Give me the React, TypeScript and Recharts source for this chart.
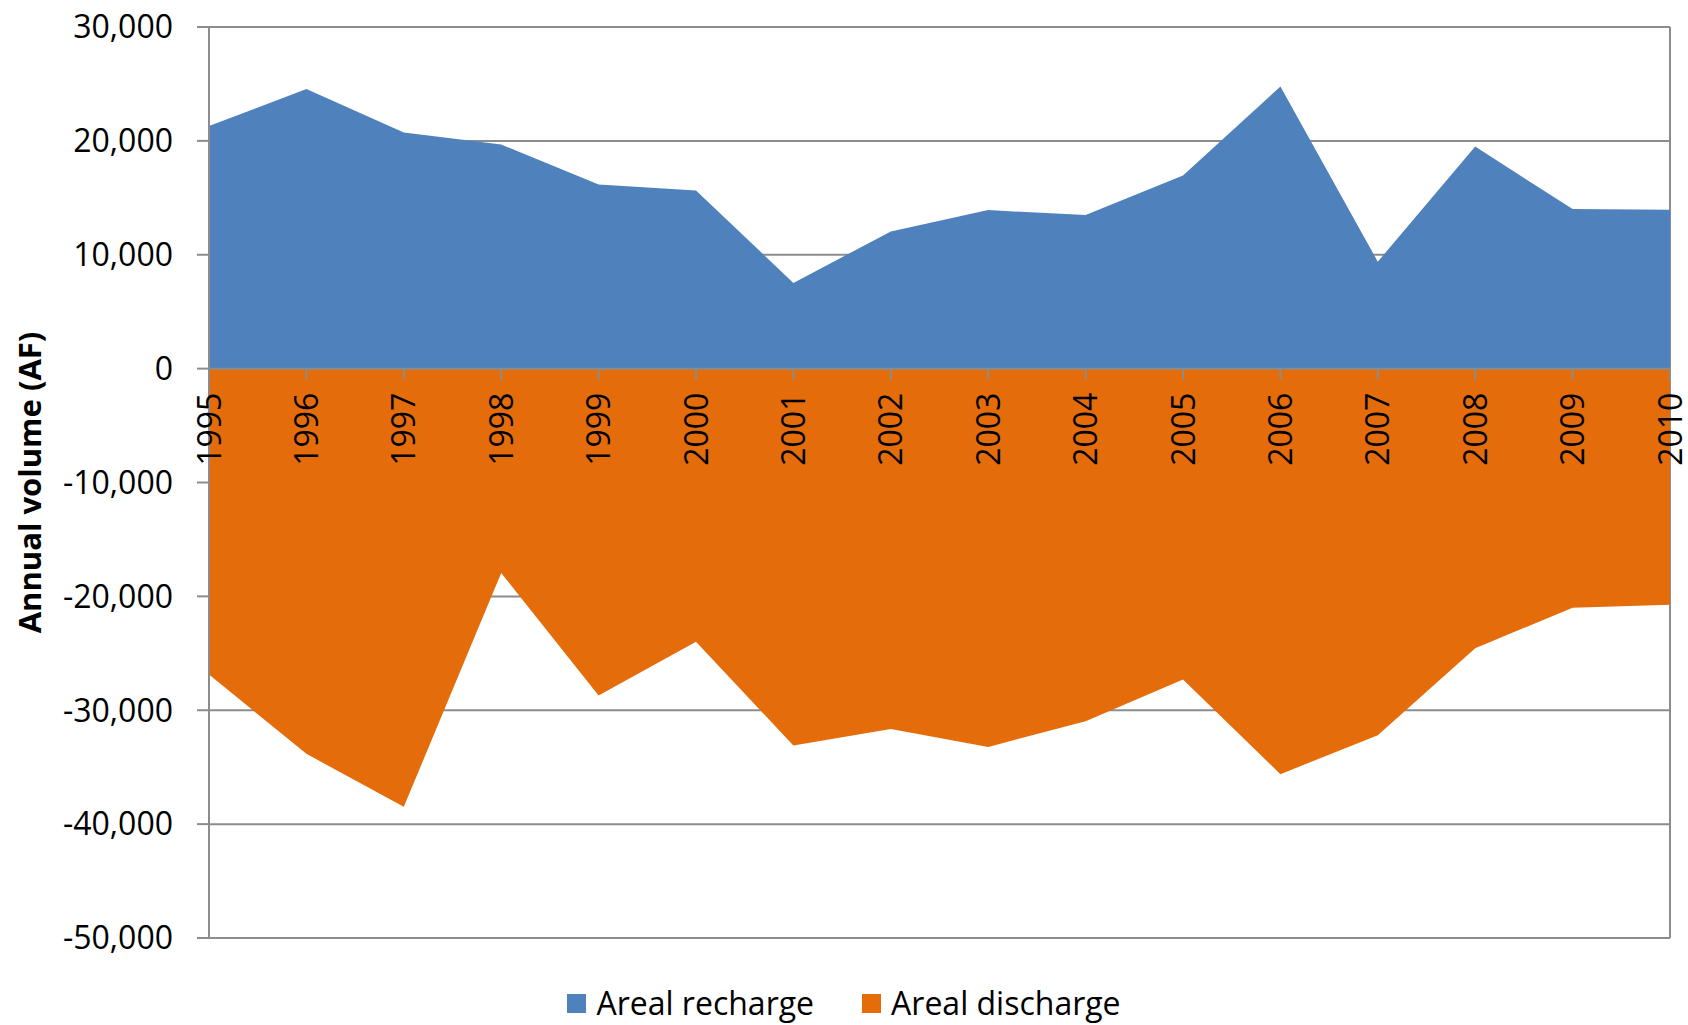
import { AreaChart, Area, XAxis, YAxis, CartesianGrid, Legend, ReferenceLine } from 'recharts';

const YEARS = [
  '1995', '1996', '1997', '1998', '1999', '2000', '2001', '2002',
  '2003', '2004', '2005', '2006', '2007', '2008', '2009', '2010',
];
const RECHARGE = [
  21300, 24560, 20730, 19680, 16170, 15640, 7520, 12050,
  13920, 13480, 16960, 24770, 9390, 19500, 14010, 13950,
];
const DISCHARGE = [
  -26870, -33830, -38480, -17950, -28710, -23980, -33100, -31640,
  -33220, -30970, -27310, -35610, -32190, -24560, -20990, -20730,
];
const Y_TICKS = [-50000, -40000, -30000, -20000, -10000, 0, 10000, 20000, 30000];
const SERIES_ORDER = ['Areal recharge', 'Areal discharge'];

const Y_MIN = -50000;
const Y_MAX = 30000;
const PLOT_TOP = 27;
const FONT = '"Open Sans", sans-serif';
const GRID = '#8c8c8c';
const BLUE = '#4f81bd';
const ORANGE = '#e46c0a';

const data = YEARS.map((year, i) => ({
  year,
  recharge: RECHARGE[i],
  discharge: DISCHARGE[i],
}));

function YearTick({ x, y, payload }: any) {
  // ticks sit on the zero line, not at the bottom of the plot
  const zeroY = PLOT_TOP + ((y - PLOT_TOP) * Y_MAX) / (Y_MAX - Y_MIN);
  const ty = zeroY + 24;
  return (
    <g>
      <line x1={x} x2={x} y1={zeroY} y2={zeroY + 11} stroke={GRID} strokeWidth={2} />
      <text
        x={x}
        y={ty}
        dy="0.36em"
        textAnchor="end"
        transform={`rotate(-90, ${x}, ${ty})`}
        fontFamily={FONT}
        fontSize={32}
        fill="#000"
      >
        {payload.value}
      </text>
    </g>
  );
}

function AxisTitle({ viewBox }: any) {
  const cy = viewBox.y + viewBox.height / 2;
  return (
    <text
      x={30}
      y={cy}
      dy="0.36em"
      textAnchor="middle"
      transform={`rotate(-90, 30, ${cy})`}
      fontFamily={FONT}
      fontSize={31}
      fontWeight={700}
      fill="#000"
    >
      Annual volume (AF)
    </text>
  );
}

function LegendContent({ payload }: any) {
  const items = [...(payload ?? [])].sort(
    (a: any, b: any) => SERIES_ORDER.indexOf(a.value) - SERIES_ORDER.indexOf(b.value),
  );
  return (
    <div
      style={{
        display: 'flex',
        justifyContent: 'center',
        alignItems: 'center',
        gap: 48,
        fontFamily: FONT,
        fontSize: 32,
        lineHeight: '40px',
        color: '#000',
      }}
    >
      {items.map((p: any) => (
        <div key={p.value} style={{ display: 'flex', alignItems: 'center' }}>
          <span style={{ width: 19, height: 19, background: p.color, marginRight: 10 }} />
          {p.value}
        </div>
      ))}
    </div>
  );
}

export default function App() {
  return (
    <div style={{ position: 'absolute', left: 0, top: 0, background: '#fff' }}>
      <AreaChart
        width={1688}
        height={1025}
        data={data}
        margin={{ top: PLOT_TOP, right: 18, left: 0, bottom: 46 }}
      >
        <CartesianGrid
          stroke={GRID}
          strokeWidth={2}
          vertical
          horizontal
          verticalCoordinatesGenerator={({ offset }: any) => [offset.left + offset.width]}
        />
        <Area
          type="linear"
          dataKey="recharge"
          name="Areal recharge"
          stroke="none"
          fill={BLUE}
          fillOpacity={1}
          baseValue={0}
          isAnimationActive={false}
        />
        <Area
          type="linear"
          dataKey="discharge"
          name="Areal discharge"
          stroke="none"
          fill={ORANGE}
          fillOpacity={1}
          baseValue={0}
          isAnimationActive={false}
        />
        <ReferenceLine y={0} stroke={GRID} strokeWidth={2} />
        <XAxis
          dataKey="year"
          interval={0}
          height={1}
          axisLine={false}
          tickLine={false}
          tickSize={0}
          tickMargin={0}
          tick={<YearTick />}
        />
        <YAxis
          width={209}
          domain={[Y_MIN, Y_MAX]}
          ticks={Y_TICKS}
          interval={0}
          stroke={GRID}
          axisLine={{ stroke: GRID, strokeWidth: 2 }}
          tickLine={{ stroke: GRID, strokeWidth: 2 }}
          tickSize={12}
          tickMargin={24}
          tick={{ fill: '#000', fontFamily: FONT, fontSize: 32 }}
          tickFormatter={(v: number) => v.toLocaleString('en-US')}
          label={<AxisTitle />}
        />
        <Legend
          verticalAlign="bottom"
          content={<LegendContent />}
          wrapperStyle={{ left: 0, width: 1688, bottom: 2 }}
        />
      </AreaChart>
    </div>
  );
}
